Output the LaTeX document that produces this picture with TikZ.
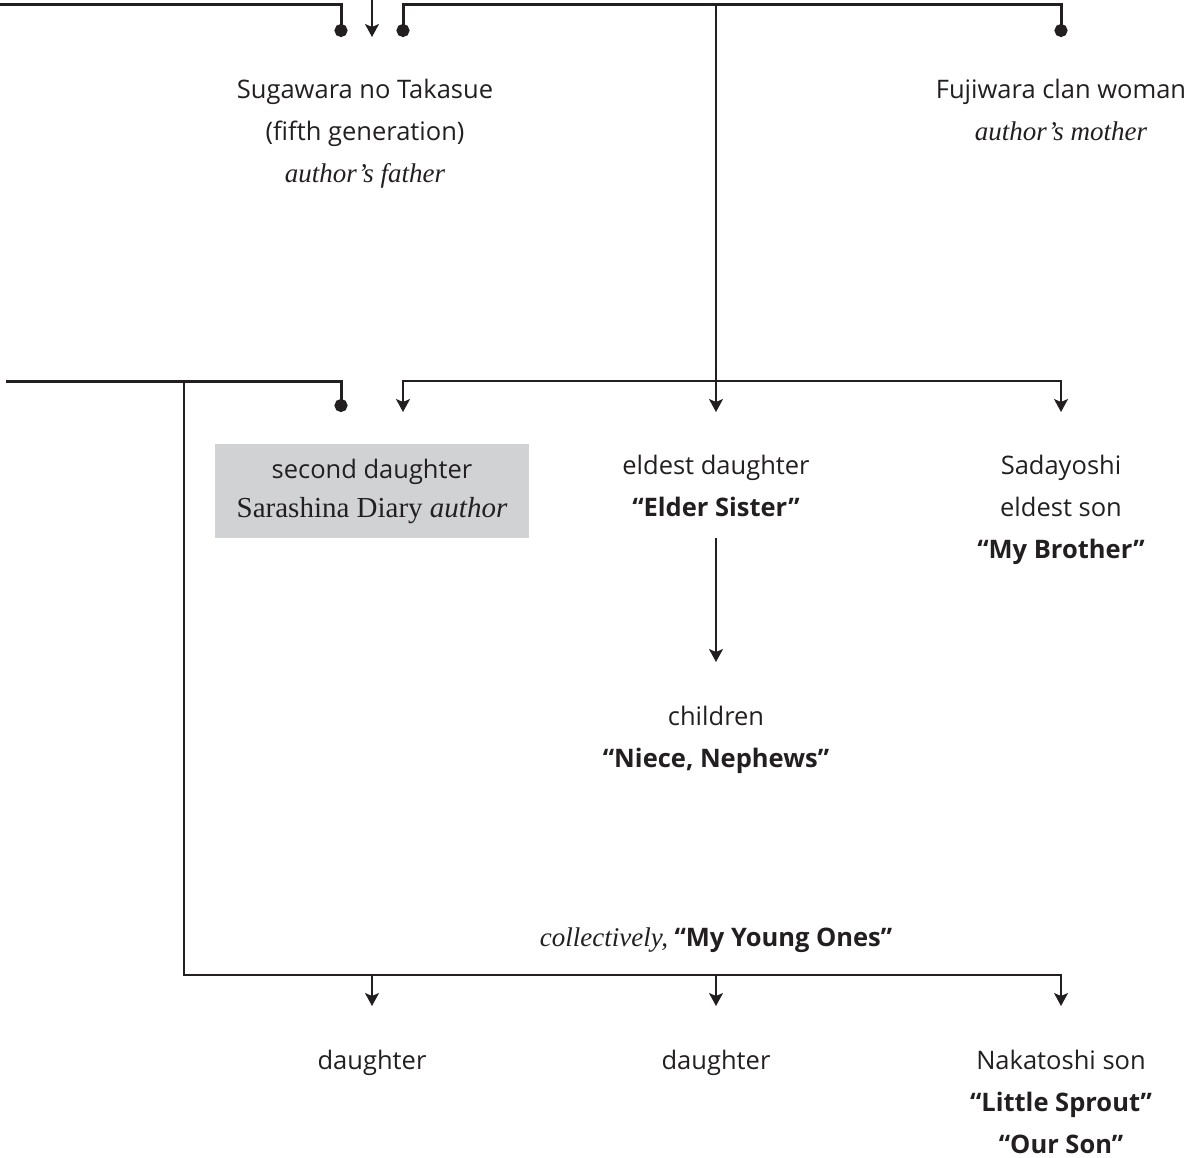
\documentclass[tikz,border=0pt]{standalone}
\usepackage{fontspec}
\setmainfont{Open Sans}[Ligatures=CommonOff]
\newfontfamily\garafont{Liberation Serif}
\usetikzlibrary{arrows.meta}
\definecolor{ink}{HTML}{231F20}
\definecolor{boxgray}{HTML}{D1D2D4}
\newcommand{\ital}[1]{{\garafont\itshape\fontsize{27}{42}\selectfont #1}}

\begin{document}
\begin{tikzpicture}[x=1pt,y=-1pt,
    person/.style={align=center,anchor=north,inner sep=0pt,text=ink,
      font=\fontsize{25.5}{42}\selectfont},
    kin/.style={draw=ink,line width=1.4pt,-{Stealth[length=13pt,width=14pt,inset=3pt]}},
    wed/.style={draw=ink,line width=3pt,-{Circle[length=13pt]}},
    line/.style={draw=ink,line width=1.4pt}]
      \useasboundingbox (0,0) rectangle (1191,1158);

      % parents
      \node[person] (father) at (365,79) {Sugawara no Takasue\\ (fifth generation)\\ \ital{author’s father}};
      \node[person] (mother) at (1061,79) {Fujiwara clan woman\\ \ital{author’s mother}};

      % first generation
      \node[person,anchor=center,fill=boxgray,minimum width=314pt,minimum height=94pt,
        font=\fontsize{25.5}{39}\selectfont] (author) at (372,491)
        {second daughter\\ {\garafont\fontsize{29}{39}\selectfont Sarashina Diary \itshape author}};
      \node[person] (sister) at (716,455) {eldest daughter\\ \textbf{“Elder Sister”}};
      \node[person] (brother) at (1061,455) {Sadayoshi\\ eldest son\\ \textbf{“My Brother”}};
      \node[person] (kids) at (716,706) {children\\ \textbf{“Niece, Nephews”}};

      % second generation
      \node[person,anchor=base] (young) at (716,946) {\ital{collectively,} \textbf{“My Young Ones”}};
      \node[person] (dau1) at (372,1050) {daughter};
      \node[person] (dau2) at (716,1050) {daughter};
      \node[person] (son) at (1061,1050) {Nakatoshi son\\ \textbf{“Little Sprout”}\\ \textbf{“Our Son”}};

      % joints
      \coordinate (offA) at (0,5);
      \coordinate (dotA) at (341,37);
      \coordinate (inA) at (372,0);
      \coordinate (tipA) at (372,37);
      \coordinate (wedB) at (716,5);
      \coordinate (dotB) at (403,37);
      \coordinate (dotC) at (1061,37);
      \coordinate (forkB) at (716,381);
      \coordinate (tipB1) at (403,412);
      \coordinate (tipB2) at (716,412);
      \coordinate (tipB3) at (1061,412);
      \coordinate (offD) at (6,381);
      \coordinate (dotD) at (341,412);
      \coordinate (wedD) at (184,381);
      \coordinate (forkD) at (1061,975);
      \coordinate (tipD1) at (372,1006);
      \coordinate (tipD2) at (716,1006);
      \coordinate (tipD3) at (1061,1006);

      \draw[wed] (offA) -| (dotA);
      \draw[kin] (inA) -- (tipA);
      \draw[wed] (wedB) -| (dotB);
      \draw[wed] (wedB) -| (dotC);
      \draw[line] (wedB) -- (forkB);
      \draw[kin] (forkB) -| (tipB1);
      \draw[kin] (forkB) -- (tipB2);
      \draw[kin] (forkB) -| (tipB3);

      \draw[kin] ([yshift=-21pt]sister.south) -- ([yshift=44pt]kids.north);

      \draw[wed] (offD) -| (dotD);
      \draw[kin] (wedD) |- (forkD) -- (tipD3);
      \draw[kin] (tipD1 |- forkD) -- (tipD1);
      \draw[kin] (tipD2 |- forkD) -- (tipD2);
\end{tikzpicture}
\end{document}
